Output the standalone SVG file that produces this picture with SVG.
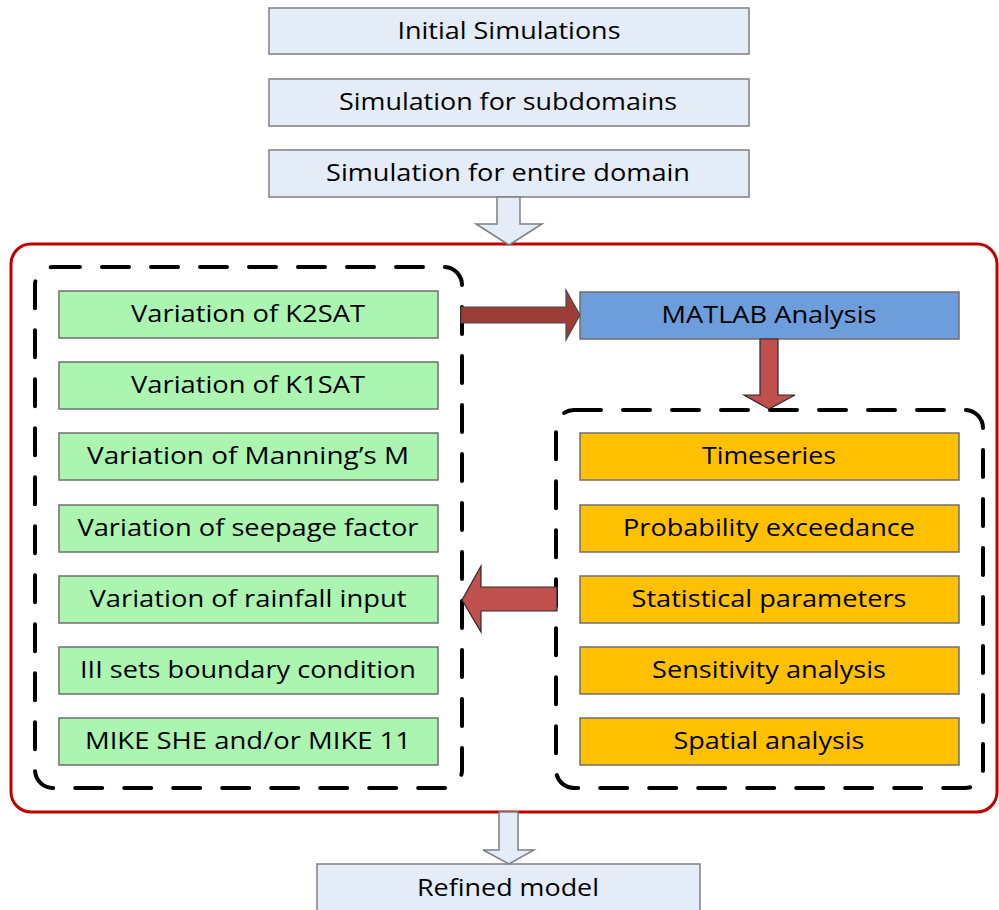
<svg xmlns="http://www.w3.org/2000/svg" width="999" height="910" viewBox="0 0 999 910">
  <style>
    .lbl { font-family: "Open Sans", Lato, "Liberation Sans", sans-serif; font-size: 23px; fill: #000; text-anchor: middle; }
    .step { fill: #E4ECF7; stroke: #7F7F7F; stroke-width: 1.5; }
    .param { fill: #ABF5B1; stroke: #6F6F6F; stroke-width: 1.5; }
    .out { fill: #FFC000; stroke: #6F6F6F; stroke-width: 1.5; }
    .tool { fill: #6D9DDB; stroke: #6F6F6F; stroke-width: 1.5; }
    .frame { fill: none; stroke: #C00000; stroke-width: 3; }
    .group { fill: none; stroke: #000; stroke-width: 4; stroke-dasharray: 27 22; stroke-linecap: round; }
    .hollow { fill: #E4ECF7; stroke: #7F7F7F; stroke-width: 1.5; }
    .flow { fill: #C0504D; stroke: #2A2A2A; stroke-width: 1.2; }
    .flow-dark { fill: #9B3C36; stroke: #4A4A4A; stroke-width: 1.2; }
  </style>

  <!-- outer red frame and the two dashed groups -->
  <rect class="frame" x="11" y="244" width="986" height="568" rx="20"/>
  <rect class="group" x="35" y="267" width="427" height="521" rx="18"/>
  <rect class="group" x="556" y="410" width="427" height="378" rx="18"/>

  <!-- top sequence -->
  <g id="initial-simulations">
    <rect class="step" x="269" y="8" width="480" height="46"/>
    <text class="lbl" x="509" y="39" textLength="223" lengthAdjust="spacingAndGlyphs">Initial Simulations</text>
  </g>
  <g id="simulation-subdomains">
    <rect class="step" x="269" y="79" width="480" height="47"/>
    <text class="lbl" x="508" y="110" textLength="338" lengthAdjust="spacingAndGlyphs">Simulation for subdomains</text>
  </g>
  <g id="simulation-entire-domain">
    <rect class="step" x="269" y="150" width="480" height="47"/>
    <text class="lbl" x="508" y="181" textLength="364" lengthAdjust="spacingAndGlyphs">Simulation for entire domain</text>
  </g>

  <!-- parameter variations -->
  <g id="var-k2sat">
    <rect class="param" x="59" y="291" width="379" height="47"/>
    <text class="lbl" x="248" y="322" textLength="234" lengthAdjust="spacingAndGlyphs">Variation of K2SAT</text>
  </g>
  <g id="var-k1sat">
    <rect class="param" x="59" y="362" width="379" height="47"/>
    <text class="lbl" x="248" y="393" textLength="234" lengthAdjust="spacingAndGlyphs">Variation of K1SAT</text>
  </g>
  <g id="var-manning">
    <rect class="param" x="59" y="433" width="379" height="47"/>
    <text class="lbl" x="248" y="464" textLength="322" lengthAdjust="spacingAndGlyphs">Variation of Manning’s M</text>
  </g>
  <g id="var-seepage">
    <rect class="param" x="59" y="505" width="379" height="47"/>
    <text class="lbl" x="248" y="536" textLength="341" lengthAdjust="spacingAndGlyphs">Variation of seepage factor</text>
  </g>
  <g id="var-rainfall">
    <rect class="param" x="59" y="576" width="379" height="47"/>
    <text class="lbl" x="248" y="607" textLength="317" lengthAdjust="spacingAndGlyphs">Variation of rainfall input</text>
  </g>
  <g id="boundary-sets">
    <rect class="param" x="59" y="647" width="379" height="47"/>
    <text class="lbl" x="248" y="678" textLength="336" lengthAdjust="spacingAndGlyphs">III sets boundary condition</text>
  </g>
  <g id="mike-models">
    <rect class="param" x="59" y="718" width="379" height="47"/>
    <text class="lbl" x="248" y="749" textLength="326" lengthAdjust="spacingAndGlyphs">MIKE SHE and/or MIKE 11</text>
  </g>

  <!-- analysis -->
  <g id="matlab-analysis">
    <rect class="tool" x="580" y="292" width="379" height="47"/>
    <text class="lbl" x="769" y="323" textLength="215" lengthAdjust="spacingAndGlyphs">MATLAB Analysis</text>
  </g>
  <g id="timeseries">
    <rect class="out" x="580" y="433" width="379" height="47"/>
    <text class="lbl" x="769" y="464" textLength="134" lengthAdjust="spacingAndGlyphs">Timeseries</text>
  </g>
  <g id="probability-exceedance">
    <rect class="out" x="580" y="505" width="379" height="47"/>
    <text class="lbl" x="769" y="536" textLength="292" lengthAdjust="spacingAndGlyphs">Probability exceedance</text>
  </g>
  <g id="statistical-parameters">
    <rect class="out" x="580" y="576" width="379" height="47"/>
    <text class="lbl" x="769" y="607" textLength="275" lengthAdjust="spacingAndGlyphs">Statistical parameters</text>
  </g>
  <g id="sensitivity-analysis">
    <rect class="out" x="580" y="647" width="379" height="47"/>
    <text class="lbl" x="769" y="678" textLength="234" lengthAdjust="spacingAndGlyphs">Sensitivity analysis</text>
  </g>
  <g id="spatial-analysis">
    <rect class="out" x="580" y="718" width="379" height="47"/>
    <text class="lbl" x="769" y="749" textLength="191" lengthAdjust="spacingAndGlyphs">Spatial analysis</text>
  </g>

  <!-- result -->
  <g id="refined-model">
    <rect class="step" x="317" y="864" width="383" height="52"/>
    <text class="lbl" x="508" y="896" textLength="182" lengthAdjust="spacingAndGlyphs">Refined model</text>
  </g>

  <!-- block arrows -->
  <g id="connectors">
    <path class="hollow" d="M497,197 H520 V224 H542 L509,245 L476,224 H497 Z"/>
    <path class="flow-dark" d="M461,307 H566 V290 L580,315 L566,340 V323 H461 Z"/>
    <path class="flow" d="M760,339 H778 V395 H795 L769,409 L744,395 H760 Z"/>
    <path class="flow" d="M557,587 V611 H481 V632 L462,600 L481,566 V587 Z"/>
    <path class="hollow" d="M499,812 H518 V850 H534 L509,864 L483,850 H499 Z"/>
  </g>
</svg>
